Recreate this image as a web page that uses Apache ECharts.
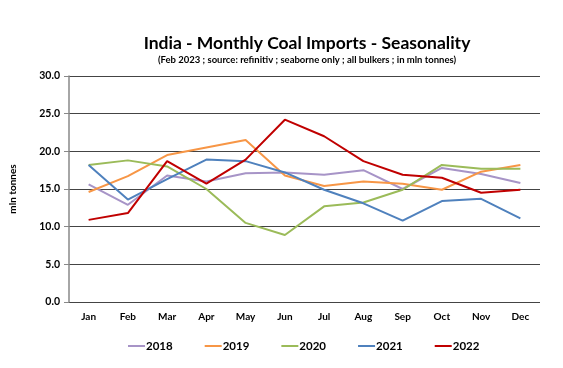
<!DOCTYPE html>
<html><head><meta charset="utf-8">
<script src="https://cdn.jsdelivr.net/npm/echarts@6/dist/echarts.min.js"></script>
<style>html,body{margin:0;padding:0;background:#fff}#c{width:563px;height:368px}</style>
</head><body><div id="c"></div>
<script>
const months = ["Jan","Feb","Mar","Apr","May","Jun","Jul","Aug","Sep","Oct","Nov","Dec"];
const s2018 = [15.6,12.9,16.8,16.0,17.1,17.2,16.9,17.5,15.0,17.8,17.0,15.8];
const s2019 = [14.6,16.7,19.5,20.5,21.5,16.8,15.4,16.0,15.7,14.9,17.3,18.2];
const s2020 = [18.2,18.8,18.0,15.0,10.5,8.9,12.7,13.2,14.9,18.2,17.7,17.7];
const s2021 = [18.2,13.6,16.3,18.9,18.7,17.2,14.9,13.1,10.8,13.4,13.7,11.1];
const s2022 = [10.9,11.8,18.7,15.7,18.9,24.2,22.0,18.7,16.9,16.5,14.5,14.9];
const yTicks = [0,5,10,15,20,25,30];

const FONT = "Lato";
const seriesDef = [
  ["2018", s2018, "#a794c7"],
  ["2019", s2019, "#f79646"],
  ["2020", s2020, "#9bbb59"],
  ["2021", s2021, "#4f81bd"],
  ["2022", s2022, "#c00000"]
];
const chart = echarts.init(document.getElementById('c'));
chart.setOption({
  animation: false,
  textStyle: {fontFamily: FONT},
  title: {
    text: "India - Monthly Coal Imports - Seasonality",
    subtext: "(Feb 2023 ; source: refinitiv ; seaborne only ; all bulkers ; in mln tonnes)",
    left: 302, top: 29, textAlign: "center",
    textStyle: {fontFamily: FONT, fontSize: 17.5, fontWeight: "bold", color: "#000"},
    subtextStyle: {fontFamily: FONT, fontSize: 9.5, fontWeight: "bold", color: "#000"},
    itemGap: 3
  },
  legend: {
    bottom: 11, left: 123,
    itemWidth: 17, itemHeight: 2, itemGap: 32,
    icon: "rect",
    textStyle: {fontFamily: FONT, fontSize: 11.5, fontWeight: "bold", color: "#000", padding: [0,0,0,-4]},
    data: seriesDef.map(d => d[0])
  },
  grid: {left: 64, right: 23, top: 76, bottom: 66},
  xAxis: {
    type: "category", data: months, boundaryGap: true,
    axisLine: {show: false}, axisTick: {show: false},
    axisLabel: {fontFamily: FONT, fontSize: 10, fontWeight: "bold", color: "#000", margin: 10}
  },
  yAxis: {
    type: "value", min: 0, max: 30, interval: 5,
    name: "mln tonnes", nameLocation: "middle", nameGap: 51, nameRotate: 90,
    nameTextStyle: {fontFamily: FONT, fontSize: 10, fontWeight: "bold", color: "#000"},
    axisLine: {show: true, lineStyle: {color: "#888", width: 1.5}},
    axisTick: {show: true, length: 5, inside: false, lineStyle: {color: "#888"}},
    axisLabel: {fontFamily: FONT, fontSize: 10.5, fontWeight: "bold", color: "#000", margin: 9,
      formatter: v => v.toFixed(1)},
    splitLine: {show: true, lineStyle: {color: "#444", width: 1}}
  },
  series: seriesDef.map(d => ({
    name: d[0], type: "line", data: d[1], symbol: "none",
    lineStyle: {color: d[2], width: 2}, itemStyle: {color: d[2]}
  }))
});
</script></body></html>
